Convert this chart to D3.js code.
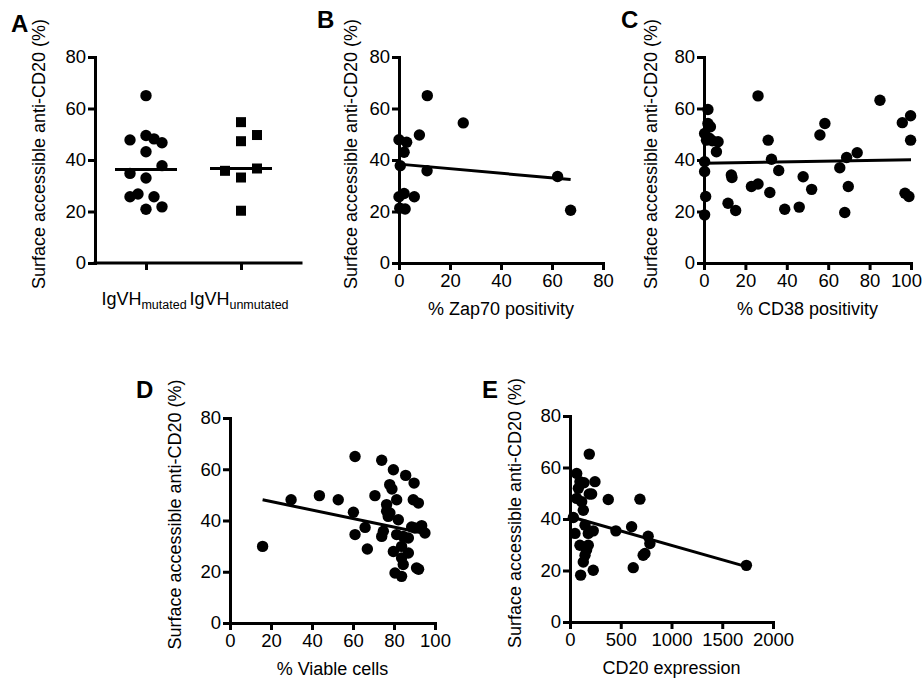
<!DOCTYPE html>
<html>
<head>
<meta charset="utf-8">
<script src="https://cdn.jsdelivr.net/npm/d3@7"></script>
<style>
  body { margin: 0; background: #fff; }
  text { font-family: "Liberation Sans", Arial, sans-serif; fill: #000; }
</style>
</head>
<body>
<script>
// panel A - IgVH groups (jitter slot = column within the group)
var mutatedY = [65, 47.8, 49.5, 48.2, 46.7, 43.2, 37.8, 34.8, 33.0, 25.7, 26.8, 25.7, 20.9, 21.8];
var mutatedSlot = [0, -2, 0, 1, 2, 0, 2, -2, 0, -2, -1, 1, 0, 2];
var unmutatedY = [54.7, 49.7, 47.3, 35.8, 36.7, 33.2, 20.3];
var unmutatedSlot = [0, 2, 0, -2, 2, 0, 0];

// panel B - % Zap70 positivity
var zapX = [11.1, 25.2, 8, 0, 3, 2, 0.5, 11, 2, 6, 0, 0.3, 2.4, 62.2, 67.3];
var zapY = [65, 54.4, 49.7, 47.9, 46.9, 43, 37.8, 35.8, 27, 25.7, 25.7, 21.3, 21, 33.6, 20.5];
var zapFit = [[0, 38.4], [67.3, 32.4]];

// panel C - % CD38 positivity
var cd38X = [26.1, 85, 1.9, 99.8, 95.8, 58.4, 1.9, 3.1, 0.3, 56, 1.2, 31, 99.8, 6.8, 6, 0.3, 32.6, 68.9, 74,
  36.1, 0.3, 13.2, 13.5, 65.6, 47.9, 22.9, 26.1, 31.8, 52, 69.7, 0.8, 11.6, 15.3, 39, 46, 68, 97.1, 99, 0.3, 2.5, 4];
var cd38Y = [64.9, 63.2, 59.6, 57.2, 54.5, 54.2, 54.2, 52.9, 50.3, 49.7, 47.7, 47.7, 47.7, 47.1, 43.2, 39.3, 40.3, 41, 42.8,
  35.9, 35.5, 34.2, 33.2, 37, 33.5, 29.7, 30.7, 27.4, 28.6, 29.7, 25.8, 23.2, 20.4, 20.9, 21.7, 19.6, 27.1, 25.8, 18.7, 48.5, 47.5];
var cd38Fit = [[0, 38.7], [100, 40.1]];

// panel D - % viable cells
var viableX = [15.9, 29.8, 43.6, 52.8, 61, 74, 79.7, 85.7, 89.8, 77.9, 79, 70.7, 81.3, 76.4, 89.4, 91.9, 76.4, 60.2, 77.2, 82.1,
  65.9, 61, 74.8, 74, 81.3, 84.5, 87, 90.2, 93.5, 95.1, 67, 79.7, 87, 83.7, 83.7, 84.5, 91, 92, 80.5, 83.7, 88.6, 78];
var viableY = [29.9, 48.1, 49.7, 48.1, 65, 63.5, 59.8, 57.6, 54.6, 54, 52.3, 49.7, 48.1, 46.2, 48.1, 46.8, 43.6, 43.2, 41.6, 40.3,
  37.3, 34.5, 35.8, 33.8, 34.5, 33.8, 33.2, 37.1, 38, 35.1, 28.9, 27.9, 27.3, 29.9, 25.4, 22.8, 21.5, 21, 19.5, 18.2, 37.5, 42.9];
var viableFit = [[15.9, 48.1], [95.1, 34.9]];

// panel E - CD20 expression
var cd20X = [190, 66, 98, 138, 246, 66, 82, 190, 213, 377, 689, 115, 131, 33, 148, 229, 452, 607, 49, 180, 770, 787,
  98, 180, 163, 738, 721, 148, 131, 229, 623, 105, 1738];
var cd20Y = [65.2, 57.7, 54.5, 54.1, 54.5, 48, 51.9, 49.7, 49.7, 47.6, 47.7, 46.7, 43.4, 40.6, 37.6, 35.4, 35.4, 37, 34.4, 34.4, 33.3, 30.5,
  29.8, 29.8, 28, 26.6, 25.9, 25.9, 23.3, 20.1, 21.1, 18.2, 22];
var cd20Fit = [[33, 40.6], [1738, 21.5]];

var yTicks = [0, 20, 40, 60, 80];
var yTitle = "Surface accessible anti-CD20 (%)";

var svg = d3.select("body").append("svg")
  .attr("width", 924)
  .attr("height", 680);

function zip(xs, ys) {
  return xs.map(function(x, i) { return { x: x, y: ys[i] }; });
}

function styleAxis(g) {
  g.select(".domain").attr("stroke", "#000").attr("stroke-width", 3).attr("stroke-linecap", "square");
  g.selectAll(".tick line").attr("stroke", "#000").attr("stroke-width", 3);
  g.selectAll(".tick text").attr("font-size", 18.5).attr("font-family", "Liberation Sans, Arial, sans-serif").attr("fill", "#000");
}

// common frame: y axis, title, panel letter
function makePanel(p) {
  var g = svg.append("g").attr("transform", "translate(" + p.left + "," + p.top + ")");
  var y = d3.scaleLinear().domain([0, 80]).range([p.h, 0]);

  var ya = g.append("g")
    .call(d3.axisLeft(y).tickValues(yTicks).tickSize(7).tickSizeOuter(0).tickPadding(2));
  styleAxis(ya);

  g.append("text")
    .attr("transform", "translate(" + p.titleX + "," + (p.h / 2 - 6) + ") rotate(-90)")
    .attr("text-anchor", "middle")
    .attr("font-size", 18)
    .text(yTitle);

  svg.append("text")
    .attr("x", p.letterX).attr("y", p.letterY)
    .attr("font-size", 24).attr("font-weight", "bold")
    .text(p.letter);

  return { g: g, y: y };
}

function scatterPanel(p) {
  var f = makePanel(p);
  var x = d3.scaleLinear().domain(p.xDomain).range([0, p.w]);

  var xa = f.g.append("g")
    .attr("transform", "translate(0," + p.h + ")")
    .call(d3.axisBottom(x).tickValues(p.xTicks).tickFormat(d3.format("d"))
      .tickSize(7).tickSizeOuter(0).tickPadding(4));
  styleAxis(xa);
  // last label nudged in so it stays on the page (as in the figure)
  if (p.lastLabelDx) {
    xa.selectAll(".tick text").filter(function(d, i, n) { return i === n.length - 1; })
      .attr("dx", p.lastLabelDx);
  }

  f.g.append("text")
    .attr("x", p.w / 2).attr("y", p.h + 52)
    .attr("text-anchor", "middle")
    .attr("font-size", 18)
    .text(p.xTitle);

  f.g.selectAll("circle.pt")
    .data(p.points)
    .enter().append("circle")
    .attr("class", "pt")
    .attr("cx", function(d) { return x(d.x); })
    .attr("cy", function(d) { return f.y(d.y); })
    .attr("r", 5.7)
    .attr("fill", "#000");

  f.g.append("path")
    .datum(p.fit)
    .attr("d", d3.line().x(function(d) { return x(d[0]); }).y(function(d) { return f.y(d[1]); }))
    .attr("stroke", "#000").attr("stroke-width", 3).attr("fill", "none");
}

// panel A
(function() {
  var p = { left: 95, top: 57, w: 206, h: 206, titleX: -50, letter: "A", letterX: 11, letterY: 32 };
  var f = makePanel(p);
  var groups = ["mutated", "unmutated"];
  var x = d3.scalePoint().domain(groups).range([51, 146]);
  var slotW = 8;

  var xa = f.g.append("g")
    .attr("transform", "translate(0," + p.h + ")")
    .call(d3.axisBottom(x).tickSize(7).tickSizeOuter(0).tickFormat(""));
  xa.select(".domain").attr("d", "M0,0H" + p.w);
  styleAxis(xa);

  groups.forEach(function(gname) {
    var t = f.g.append("text")
      .attr("x", x(gname) - 2).attr("y", p.h + 42)
      .attr("text-anchor", "middle")
      .attr("font-size", 18)
      .text("IgVH");
    t.append("tspan").attr("font-size", 12.5).attr("dy", 4).text(gname);
  });

  var mut = mutatedY.map(function(v, i) { return { y: v, s: mutatedSlot[i] }; });
  var unm = unmutatedY.map(function(v, i) { return { y: v, s: unmutatedSlot[i] }; });

  f.g.selectAll("circle.pt")
    .data(mut).enter().append("circle")
    .attr("cx", function(d) { return x("mutated") + d.s * slotW; })
    .attr("cy", function(d) { return f.y(d.y); })
    .attr("r", 5.7).attr("fill", "#000");

  f.g.selectAll("rect.pt")
    .data(unm).enter().append("rect")
    .attr("x", function(d) { return x("unmutated") + d.s * slotW - 5; })
    .attr("y", function(d) { return f.y(d.y) - 5; })
    .attr("width", 10).attr("height", 10).attr("fill", "#000");

  [["mutated", mutatedY], ["unmutated", unmutatedY]].forEach(function(m) {
    var med = d3.median(m[1]);
    f.g.append("line")
      .attr("x1", x(m[0]) - 31).attr("x2", x(m[0]) + 31)
      .attr("y1", f.y(med)).attr("y2", f.y(med))
      .attr("stroke", "#000").attr("stroke-width", 3);
  });
})();

scatterPanel({ left: 399, top: 57, w: 204, h: 206, titleX: -42, letter: "B", letterX: 317, letterY: 28,
  xDomain: [0, 80], xTicks: [0, 20, 40, 60, 80], xTitle: "% Zap70 positivity",
  points: zip(zapX, zapY), fit: zapFit });

scatterPanel({ left: 704, top: 57, w: 207, h: 206, titleX: -47, letter: "C", letterX: 621, letterY: 28,
  xDomain: [0, 100], xTicks: [0, 20, 40, 60, 80, 100], xTitle: "% CD38 positivity",
  points: zip(cd38X, cd38Y), fit: cd38Fit, lastLabelDx: -5 });

scatterPanel({ left: 230, top: 418, w: 205, h: 205, titleX: -49, letter: "D", letterX: 136, letterY: 398,
  xDomain: [0, 100], xTicks: [0, 20, 40, 60, 80, 100], xTitle: "% Viable cells",
  points: zip(viableX, viableY), fit: viableFit });

scatterPanel({ left: 570, top: 416, w: 203, h: 206, titleX: -49, letter: "E", letterX: 482, letterY: 398,
  xDomain: [0, 2000], xTicks: [0, 500, 1000, 1500, 2000], xTitle: "CD20 expression",
  points: zip(cd20X, cd20Y), fit: cd20Fit });
</script>
</body>
</html>
